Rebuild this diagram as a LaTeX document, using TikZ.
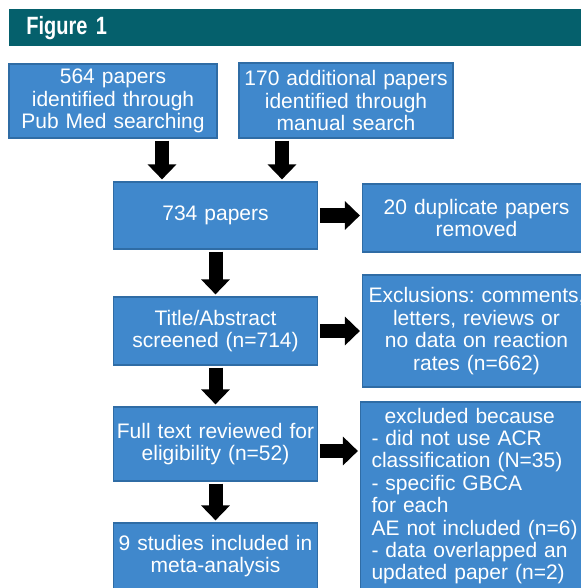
\documentclass[tikz,border=0pt]{standalone}
\usepackage{fontspec}
\setmainfont{Liberation Sans}
\newfontfamily\headfont[FakeStretch=0.8]{Liberation Sans}
\usetikzlibrary{arrows.meta,calc}
\definecolor{headteal}{HTML}{05606C}
\definecolor{boxblue}{HTML}{4088CC}
\definecolor{boxedge}{HTML}{2F6CA5}
\frenchspacing

\begin{document}
\begin{tikzpicture}[x=0.5pt,y=-0.5pt,
    stage/.style={fill=boxblue,draw=boxedge,line width=0.6pt,text=white,align=center,
      inner sep=1pt,font=\fontsize{10.5}{11.2}\selectfont},
    bigarrow/.style={line width=7pt,-{Triangle[width=14pt,length=7.5pt]},
      shorten <=1pt,shorten >=1pt}]
    \useasboundingbox (0,0) rectangle (581,588);

    % header bar
    \node[fill=headteal,text=white,anchor=north west,minimum width=290pt,minimum height=18.5pt,
      inner xsep=8.5pt,text width=273pt,align=left,
      font=\headfont\bfseries\fontsize{12.5}{14}\selectfont] (title) at (9,9) {Figure 1};

    % left column
    \node[stage,text width=102pt,minimum height=37pt] (pubmed) at (113,101) {564 papers\\identified through\\Pub Med searching};
    \node[stage,text width=105pt,minimum height=37.5pt] (manual) at (346,100.5) {170 additional papers\\identified through\\manual search};
    \node[stage,text width=100pt,minimum height=33.5pt] (lit734) at (215.5,215.5) {734 papers};
    \node[stage,text width=100pt,minimum height=34pt] (screened) at (215.5,331) {Title/Abstract\\screened (n=714)};
    \node[stage,text width=100pt,minimum height=37pt] (fulltext) at (215.5,444) {Full text reviewed for\\eligibility (n=52)};
    \node[stage,text width=100pt,minimum height=33pt] (included) at (215.5,556) {9 studies included in\\meta-analysis};

    % right column
    \node[stage,text width=112pt,minimum height=34pt] (duplicates) at (476.5,218) {20 duplicate papers\\removed};
    \node[stage,text width=112pt,minimum height=56pt] (exclusions) at (476.5,331) {Exclusions: comments,\\letters, reviews or\\no data on reaction\\rates (n=662)};
    \node[stage,align=left,inner xsep=5.5pt,text width=108pt,minimum height=94pt] (excluded) at (479.5,496)
      {\hspace*{6.5pt}excluded because\\- did not use ACR\\classification (N=35)\\- specific GBCA\\for each\\AE not included (n=6)\\- data overlapped an\\updated paper (n=2)};

    \draw[bigarrow] ($(lit734.north |- pubmed.south)+(-53.5,0)$) -- ($(lit734.north)+(-53.5,0)$);
    \draw[bigarrow] ($(lit734.north |- manual.south)+(66.5,0)$) -- ($(lit734.north)+(66.5,0)$);
    \draw[bigarrow] (lit734.south) -- (screened.north);
    \draw[bigarrow] (screened.south) -- (fulltext.north);
    \draw[bigarrow] (fulltext.south) -- (included.north);
    \draw[bigarrow] (lit734.east) -- (lit734.east -| duplicates.west);
    \draw[bigarrow] (screened.east) -- (screened.east -| exclusions.west);
    \draw[bigarrow] ($(fulltext.east)+(0,7)$) -- ($(fulltext.east -| excluded.west)+(0,7)$);
  \end{tikzpicture}
\end{document}
